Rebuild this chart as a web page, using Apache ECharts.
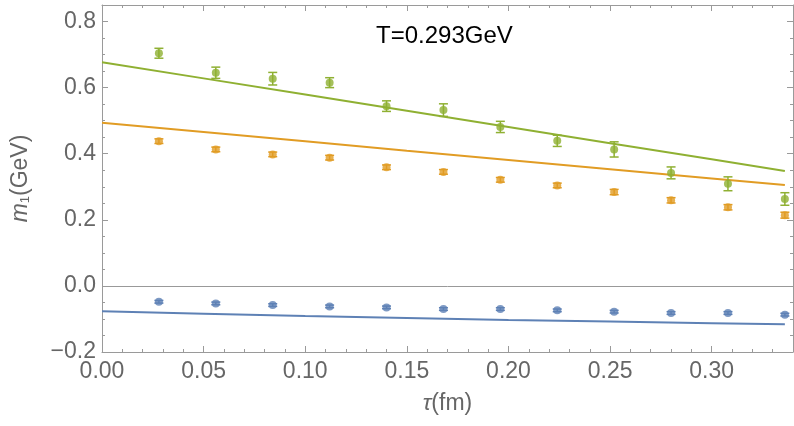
<!DOCTYPE html>
<html>
<head>
<meta charset="utf-8">
<script src="https://cdn.jsdelivr.net/npm/echarts@6/dist/echarts.min.js"></script>
<style>html,body{margin:0;padding:0;background:#fff}#c{width:794px;height:426px}</style>
</head>
<body>
<div id="c"></div>
<script>
// tau (fm) of the lattice points
const tau = [0.028, 0.056, 0.084, 0.112, 0.140, 0.168, 0.196, 0.224, 0.252, 0.280, 0.308, 0.336];
// green data
const greenVals = [0.704, 0.645, 0.627, 0.615, 0.544, 0.532, 0.481, 0.439, 0.413, 0.342, 0.309, 0.263];
const greenErr  = [0.015, 0.017, 0.019, 0.015, 0.016, 0.019, 0.017, 0.017, 0.023, 0.018, 0.021, 0.019];
// orange data
const orangeVals = [0.438, 0.413, 0.398, 0.388, 0.359, 0.345, 0.321, 0.304, 0.284, 0.259, 0.238, 0.214];
const orangeErr  = [0.007, 0.007, 0.007, 0.007, 0.007, 0.007, 0.007, 0.007, 0.008, 0.008, 0.008, 0.009];
// blue data
const blueVals = [-0.048, -0.053, -0.058, -0.062, -0.065, -0.070, -0.070, -0.074, -0.078, -0.082, -0.082, -0.087];
const blueErr  = [0.004, 0.004, 0.004, 0.004, 0.004, 0.004, 0.004, 0.004, 0.004, 0.004, 0.004, 0.004];
// fit curves
const fitTau = [0, 0.05, 0.10, 0.15, 0.20, 0.25, 0.30, 0.336];
const greenFit  = [0.677, 0.628, 0.579, 0.530, 0.481, 0.432, 0.383, 0.348];
const orangeFit = [0.494, 0.466, 0.438, 0.409, 0.381, 0.353, 0.325, 0.305];
const blueFit   = [-0.077, -0.084, -0.091, -0.097, -0.103, -0.108, -0.113, -0.116];

const annotation = 'T=0.293GeV';

const C_BLUE = '#5E81B5', C_ORANGE = '#E19C24', C_GREEN = '#8FB032';
const FRAME = '#9a9a9a';
const FONT = '"Liberation Sans", Arial, sans-serif';

function zip(a, b) { return a.map((v, i) => [v, b[i]]); }

function errorSeries(xs, ys, errs, color) {
  return {
    type: 'custom',
    xAxisIndex: 0, yAxisIndex: 0,
    data: xs.map((x, i) => [x, ys[i] - errs[i], ys[i] + errs[i]]),
    encode: { x: 0, y: [1, 2] },
    z: 3,
    silent: true,
    renderItem: function (params, api) {
      const x = api.value(0);
      const lo = api.coord([x, api.value(1)]);
      const hi = api.coord([x, api.value(2)]);
      const hw = 4.5;
      const style = { stroke: color, lineWidth: 1.5 };
      return {
        type: 'group', children: [
          { type: 'line', shape: { x1: lo[0], y1: lo[1], x2: hi[0], y2: hi[1] }, style: style },
          { type: 'line', shape: { x1: lo[0] - hw, y1: lo[1], x2: lo[0] + hw, y2: lo[1] }, style: style },
          { type: 'line', shape: { x1: hi[0] - hw, y1: hi[1], x2: hi[0] + hw, y2: hi[1] }, style: style }
        ]
      };
    }
  };
}
function pointSeries(xs, ys, color) {
  return { type: 'scatter', xAxisIndex: 0, yAxisIndex: 0, data: zip(xs, ys), symbol: 'circle', symbolSize: 8,
    itemStyle: { color: color }, z: 4, silent: true };
}
function fitSeries(xs, ys, color, extra) {
  return Object.assign({ type: 'line', xAxisIndex: 0, yAxisIndex: 0, data: zip(xs, ys), showSymbol: false, symbol: 'none',
    lineStyle: { color: color, width: 2 }, z: 2, silent: true }, extra || {});
}

const common = { min: 0, max: 0.34, splitLine: { show: false } };
const commonY = { min: -0.2, max: 0.85, splitLine: { show: false } };
function xAx(pos, interval, len, labels, line) {
  return Object.assign({}, common, {
    type: 'value', position: pos, interval: interval,
    axisLine: { show: line, onZero: false, lineStyle: { color: FRAME, width: 1 } },
    axisTick: { show: true, inside: true, length: len, lineStyle: { color: FRAME } },
    axisLabel: labels ? { show: true, fontSize: 23, color: '#666', fontFamily: FONT, margin: 8, showMaxLabel: false,
      formatter: v => v.toFixed(2) } : { show: false }
  });
}
function yAx(pos, interval, len, labels, line) {
  return Object.assign({}, commonY, {
    type: 'value', position: pos, interval: interval,
    axisLine: { show: line, onZero: false, lineStyle: { color: FRAME, width: 1 } },
    axisTick: { show: true, inside: true, length: len, lineStyle: { color: FRAME } },
    axisLabel: labels ? { show: true, fontSize: 23, color: '#666', fontFamily: FONT, margin: 6, showMaxLabel: false,
      formatter: v => v.toFixed(1).replace('-', '\u2212') } : { show: false }
  });
}

const xAxes = [
  Object.assign(xAx('bottom', 0.05, 6, true, true), {
    name: '{i|\u03C4}(fm)', nameLocation: 'middle', nameGap: 40,
    nameTextStyle: { fontSize: 23, color: '#666', fontFamily: FONT,
      rich: { i: { fontSize: 23, fontStyle: 'italic', color: '#666', fontFamily: FONT } } }
  }),
  xAx('bottom', 0.01, 3, false, false),
  xAx('top', 0.05, 6, false, true),
  xAx('top', 0.01, 3, false, false)
];
const yAxes = [
  Object.assign(yAx('left', 0.2, 6, true, true), {
    name: '{i|m}{s|1}(GeV)', nameLocation: 'middle', nameGap: 70, nameRotate: 90,
    nameTextStyle: { fontSize: 23, color: '#666', fontFamily: FONT,
      rich: { i: { fontSize: 23, fontStyle: 'italic', color: '#666', fontFamily: FONT },
              s: { fontSize: 13, color: '#666', fontFamily: FONT, verticalAlign: 'bottom', padding: [10, 0, 0, 0] } } }
  }),
  yAx('left', 0.05, 3, false, false),
  yAx('right', 0.2, 6, false, true),
  yAx('right', 0.05, 3, false, false)
];

const chart = echarts.init(document.getElementById('c'), null, { renderer: 'canvas' });
chart.setOption({
  animation: false,
  backgroundColor: '#fff',
  grid: { left: 102, right: 1, top: 5, bottom: 74, containLabel: false },
  xAxis: xAxes,
  yAxis: yAxes,
  graphic: [{
    type: 'text', left: 376, top: 24,
    style: { text: annotation, fontSize: 24, fill: '#000', fontFamily: FONT }
  }],
  series: [
    fitSeries(fitTau, blueFit, C_BLUE, {
      markLine: { silent: true, symbol: 'none', data: [{ yAxis: 0 }],
        lineStyle: { color: '#999', width: 1, type: 'solid' }, label: { show: false } }
    }),
    fitSeries(fitTau, orangeFit, C_ORANGE),
    fitSeries(fitTau, greenFit, C_GREEN),
    errorSeries(tau, blueVals, blueErr, C_BLUE),
    errorSeries(tau, orangeVals, orangeErr, C_ORANGE),
    errorSeries(tau, greenVals, greenErr, C_GREEN),
    pointSeries(tau, blueVals, C_BLUE),
    pointSeries(tau, orangeVals, C_ORANGE),
    pointSeries(tau, greenVals, C_GREEN)
  ]
});
</script>
</body>
</html>
